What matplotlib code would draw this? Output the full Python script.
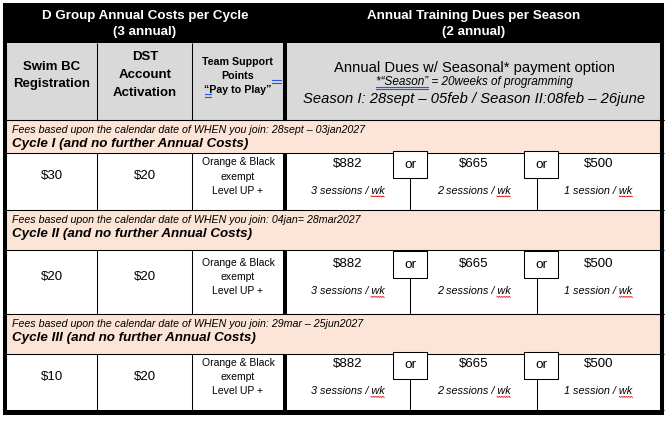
import matplotlib
matplotlib.use('Agg')
import matplotlib.pyplot as plt
from matplotlib.patches import Rectangle
import numpy as np

plt.rcParams['font.family'] = ['Liberation Sans', 'DejaVu Sans']

# ---- table content ----
left_title = ['D Group Annual Costs per Cycle', '(3 annual)']
right_title = ['Annual Training Dues per Season', '(2 annual)']
col_heads = [['Swim BC', 'Registration'],
             ['DST', 'Account', 'Activation'],
             ['Team Support', 'Points', '“Pay to Play”']]
dues_head = 'Annual Dues w/ Seasonal* payment option'
season_note_a = '*“Season”'
season_note_b = ' = 20weeks of programming'
season_dates = 'Season I: 28sept – 05feb / Season II:08feb – 26june'

cycle_names = ['Cycle I', 'Cycle II', 'Cycle III']
join_ranges = ['28sept – 03jan2027', '04jan= 28mar2027', '29mar – 25jun2027']
swim_bc = ['$30', '$20', '$10']
dst_fee = ['$20', '$20', '$20']
team_support = ['Orange & Black', 'exempt', 'Level UP +']
dues = ['$882', '$665', '$500']
sessions = ['3 sessions / wk', '2 sessions / wk', '1 session / wk']

# ---- layout (pixels) ----
W, H = 667, 421
X0, X1, Y0, Y1 = 3, 664, 3, 414
col_x = [7, 97, 192, 285, 660]
sub_x = [285, 410, 537, 660]
or_x = [393, 524]
or_w, or_h = 34, 27
band_y = [(120, 153), (210, 250), (314, 354)]
row_y = [(153, 210), (250, 314), (354, 410)]
or_dy = [-2, 1, -2]

BLACK = '#000000'
GRAY = '#d9d9d9'
PINK = '#fce4d6'
THIN = 0.75
THICK = 2.9

fig = plt.figure(figsize=(W / 100, H / 100), dpi=100, facecolor='white')
ax = fig.add_axes([0, 0, 1, 1])
ax.set_xlim(0, W)
ax.set_ylim(H, 0)
ax.axis('off')

# header backgrounds
ax.add_patch(Rectangle((X0, Y0), X1 - X0, 43 - Y0, color=BLACK, lw=0))
ax.add_patch(Rectangle((X0, 43), X1 - X0, 120 - 43, color=GRAY, lw=0))
for (a, b) in band_y:
    ax.add_patch(Rectangle((X0, a), X1 - X0, b - a, color=PINK, lw=0))

# horizontal rules
for y in [120] + [b for b in band_y for b in b] + [r[1] for r in row_y]:
    ax.plot([X0, X1], [y, y], color=BLACK, lw=THIN, solid_capstyle='butt')

# vertical rules in gray header and data rows
for seg in [(43, 120)] + row_y:
    for x in col_x[1:3]:
        ax.plot([x, x], seg, color=BLACK, lw=THIN, solid_capstyle='butt')
    ax.plot([col_x[3], col_x[3]], seg, color=BLACK, lw=THICK, solid_capstyle='butt')

# outer border
ax.add_patch(Rectangle((5, 5), 657, 407.5, fill=False, ec=BLACK, lw=THICK))

# title texts
for i, s in enumerate(left_title):
    ax.text(145, 16 + 15.5 * i, s, color='white', fontsize=9.6, fontweight='bold',
            ha='center', va='center')
for i, s in enumerate(right_title):
    ax.text(474, 16 + 15.5 * i, s, color='white', fontsize=9.6, fontweight='bold',
            ha='center', va='center')

# column heads
head_cx = [52, 145, 238]
head_y = [[67, 84], [57, 75, 93], [62, 76, 90]]
head_fs = [9.5, 9.5, 7.7]
for c in range(3):
    for s, y in zip(col_heads[c], head_y[c]):
        ax.text(head_cx[c], y, s, fontsize=head_fs[c], fontweight='bold',
                ha='center', va='center')
BLUE = '#2255ee'
for (xa, xb, y) in [(272, 281, 80), (205, 211, 94)]:
    ax.plot([xa, xb], [y, y], color=BLUE, lw=0.8)
    ax.plot([xa, xb], [y + 2.5, y + 2.5], color=BLUE, lw=0.8)

ax.text(474, 68, dues_head, fontsize=10.6, ha='center', va='center')
ax.text(474, 99.5, season_dates, fontsize=10.6, style='italic', ha='center', va='center')
note = ax.text(474, 82, season_note_a + season_note_b, fontsize=8.5, style='italic',
               ha='center', va='center')
pre = ax.text(0, -50, season_note_a, fontsize=8.5, style='italic')

fig.canvas.draw()
rend = fig.canvas.get_renderer()
nb = note.get_window_extent(rend)
pw = pre.get_window_extent(rend).width
pre.remove()
ux0 = nb.x0
ax.plot([ux0, ux0 + pw], [87.3, 87.3], color=BLUE, lw=0.8)
ax.plot([ux0, ux0 + pw], [89.4, 89.4], color=BLUE, lw=0.8)

# cycle bands
for i, (a, b) in enumerate(band_y):
    ax.text(12, a + 10, 'Fees based upon the calendar date of WHEN you join: ' + join_ranges[i],
            fontsize=7.7, style='italic', ha='left', va='center')
    ax.text(12, a + 24, cycle_names[i] + ' (and no further Annual Costs)',
            fontsize=9.6, style='italic', fontweight='bold', ha='left', va='center')

# data rows
wk = ax.text(0, -50, 'wk', fontsize=7.8, style='italic')
fig.canvas.draw()
wk_w = wk.get_window_extent(rend).width
wk.remove()

sub_cx = [(sub_x[k] + sub_x[k + 1]) / 2 for k in range(3)]
for i, (a, b) in enumerate(row_y):
    mid = (a + b) / 2 - 5
    ax.text(52, mid, swim_bc[i], fontsize=9.5, ha='center', va='center')
    ax.text(145, mid, dst_fee[i], fontsize=9.5, ha='center', va='center')
    for j, s in enumerate(team_support):
        ax.text(238, mid - 14.5 + 14.5 * j, s, fontsize=7.5, ha='center', va='center')
    for k in range(3):
        ax.text(sub_cx[k], mid - 13, dues[k], fontsize=9.5, ha='center', va='center')
        t = ax.text(sub_cx[k], mid + 14, sessions[k], fontsize=7.8, style='italic',
                    ha='center', va='center')
        fig.canvas.draw()
        bb = t.get_window_extent(rend)
        xs = np.arange(bb.x1 - wk_w, bb.x1 + 0.1, 1.2)
        ys = mid + 19.5 + 0.8 * (np.arange(len(xs)) % 2)
        ax.plot(xs, ys, color='#dd0000', lw=0.6)
    for k in range(2):
        top = a + or_dy[i]
        ax.add_patch(Rectangle((or_x[k], top), or_w, or_h, fc='white', ec=BLACK,
                               lw=THIN, zorder=3))
        ax.text(or_x[k] + or_w / 2, top + or_h / 2, 'or', fontsize=9.7,
                ha='center', va='center', zorder=4)
        ax.plot([sub_x[k + 1], sub_x[k + 1]], [top + or_h, b], color=BLACK, lw=THIN,
                solid_capstyle='butt')

fig.savefig('out.png', dpi=100, facecolor='white')
